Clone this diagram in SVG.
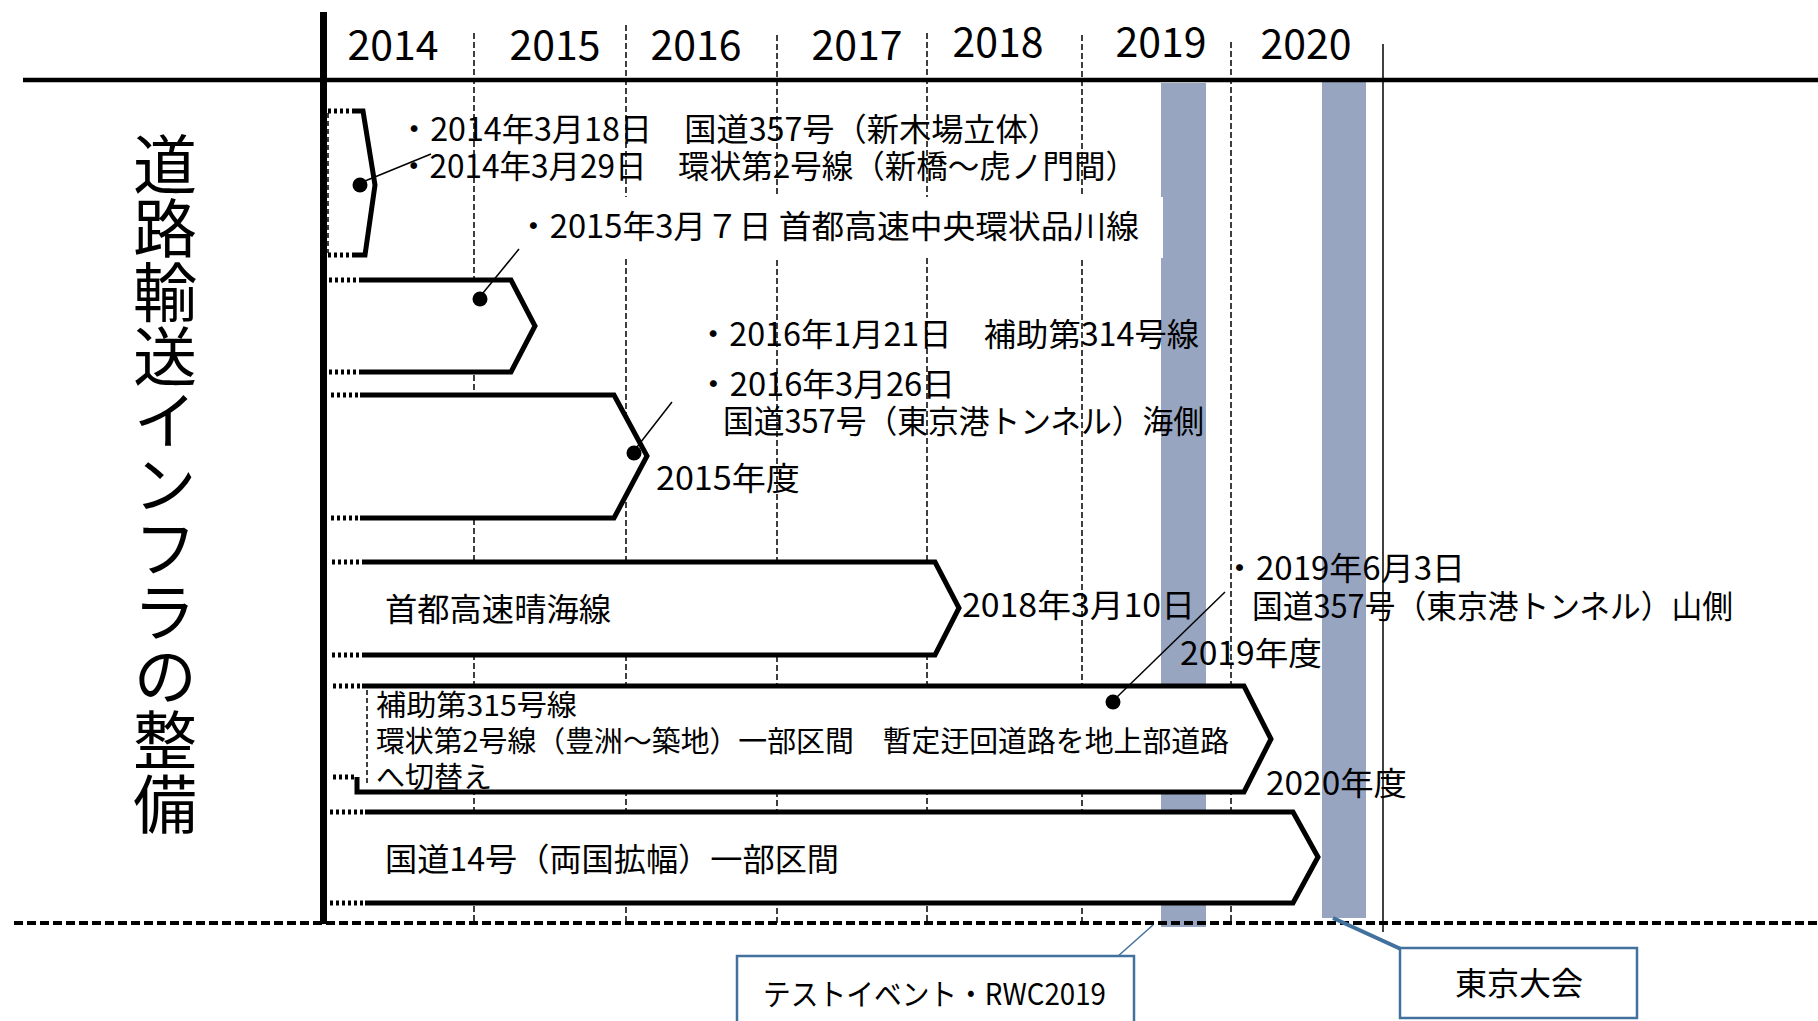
<svg xmlns="http://www.w3.org/2000/svg" width="1818" height="1021" viewBox="0 0 1818 1021">
<defs>
<style>
.t{font-family:"Noto Sans CJK JP","Noto Sans",sans-serif;fill:#000;}
.f32{font-size:32px;}
.f29{font-size:29px;}
.yr{font-size:41px;text-anchor:middle;}
.vl{stroke:#000;stroke-width:1.5;stroke-dasharray:6 3;fill:none;}
.bar{fill:#98A5C0;}
.shape{fill:#fff;stroke:none;}
.edge{fill:none;stroke:#000;stroke-width:5;stroke-linejoin:miter;}
.dotted{fill:none;stroke:#000;stroke-width:5;stroke-dasharray:3 3;}
.thin{fill:none;stroke:#000;stroke-width:1.5;}
.thindash{fill:none;stroke:#000;stroke-width:1.5;stroke-dasharray:5 3;}
.call{fill:#fff;stroke:#41719C;stroke-width:2.5;}
</style>
</defs>
<rect width="1818" height="1021" fill="#fff"/>

<g id="year-gridlines">
<line class="vl" x1="474" y1="33" x2="474" y2="924"/>
<line class="vl" x1="626" y1="25" x2="626" y2="924"/>
<line class="vl" x1="777" y1="35" x2="777" y2="924"/>
<line class="vl" x1="927" y1="33" x2="927" y2="924"/>
<line class="vl" x1="1082" y1="35" x2="1082" y2="924"/>
<line class="vl" x1="1231" y1="42" x2="1231" y2="924"/>
<line x1="1383" y1="44" x2="1383" y2="932" stroke="#000" stroke-width="1.5"/>
</g>

<g id="event-bars">
<rect class="bar" x="1161" y="83" width="45" height="844"/>
<rect class="bar" x="1322" y="81" width="44" height="837"/>
</g>

<g id="node-2014">
<polygon class="shape" points="328,111 363,111 375,185 365,255 328,255"/>
<path class="edge" d="M352,111 H363 L375,185 L365,255 H352"/>
<path class="dotted" d="M328,111 H352 M328,255 H352"/>
<path class="thindash" d="M328,113 V253"/>
</g>

<g id="node-2015">
<polygon class="shape" points="328,280 511,280 535,326 511,372 328,372"/>
<path class="edge" d="M360,280 H511 L535,326 L511,372 H360"/>
<path class="dotted" d="M329,280 H360 M329,372 H360"/>
</g>

<g id="node-2016">
<polygon class="shape" points="328,395 614,395 647,456 614,518 328,518"/>
<path class="edge" d="M360,395 H614 L647,456 L614,518 H360"/>
<path class="dotted" d="M331,395 H360 M331,518 H360"/>
</g>

<g id="node-harumi">
<polygon class="shape" points="328,562 935,562 959,608 935,655 328,655"/>
<path class="edge" d="M362,562 H935 L959,608 L935,655 H362"/>
<path class="dotted" d="M332,562 H362 M332,655 H362"/>
</g>

<g id="node-hojo315">
<polygon class="shape" points="328,686 1244,686 1271,739 1244,792 328,792"/>
<path class="edge" d="M362,686 H1244 L1271,739 L1244,792 H357 V777"/>
<path class="dotted" d="M333,686 H362 M333,777 H357"/>
<path class="thindash" d="M367,690 V786"/>
</g>

<g id="node-route14">
<polygon class="shape" points="328,812 1293,812 1318,857 1293,903 328,903"/>
<path class="edge" d="M365,812 H1293 L1318,857 L1293,903 H365"/>
<path class="dotted" d="M330,812 H365 M330,903 H365"/>
</g>

<rect id="label-bg-2015" x="520" y="197" width="643" height="61" fill="#fff"/>

<g id="axes">
<line x1="23" y1="80" x2="1818" y2="80" stroke="#000" stroke-width="4.5"/>
<line x1="323.5" y1="12" x2="323.5" y2="924" stroke="#000" stroke-width="7"/>
<line x1="14" y1="923" x2="1818" y2="923" stroke="#000" stroke-width="4" stroke-dasharray="9 4"/>
</g>

<g id="connectors">
<circle cx="360" cy="185" r="7.5"/>
<line class="thin" x1="365" y1="181" x2="431" y2="154"/>
<circle cx="480" cy="299" r="7.5"/>
<line class="thin" x1="483" y1="293" x2="519" y2="249"/>
<circle cx="634" cy="453" r="7.5"/>
<line class="thin" x1="637" y1="447" x2="672" y2="402"/>
<circle cx="1113" cy="702" r="7.5"/>
<line class="thin" x1="1117" y1="697" x2="1225" y2="592"/>
<line x1="1153" y1="925" x2="1117" y2="957" stroke="#41719C" stroke-width="1.5"/>
<line x1="1333" y1="918" x2="1403" y2="950" stroke="#41719C" stroke-width="4"/>
</g>

<g id="years" class="t yr">
<text x="393" y="60">2014</text>
<text x="555" y="60">2015</text>
<text x="696" y="60">2016</text>
<text x="857" y="60">2017</text>
<text x="998" y="57">2018</text>
<text x="1161" y="57">2019</text>
<text x="1306" y="59">2020</text>
</g>

<g id="title">
<text class="t" x="165" y="132" font-size="64" writing-mode="vertical-rl">道路輸送インフラの整備</text>
</g>

<g id="labels" class="t f32">
<text x="398" y="141" textLength="662" lengthAdjust="spacingAndGlyphs">・2014年3月18日　国道357号（新木場立体）</text>
<text x="398" y="178" textLength="739" lengthAdjust="spacingAndGlyphs">・2014年3月29日　環状第2号線（新橋～虎ノ門間）</text>
<text x="517" y="238" textLength="622" lengthAdjust="spacingAndGlyphs">・2015年3月７日 首都高速中央環状品川線</text>
<text x="697" y="346" textLength="502" lengthAdjust="spacingAndGlyphs">・2016年1月21日　補助第314号線</text>
<text x="697" y="396" textLength="258" lengthAdjust="spacingAndGlyphs">・2016年3月26日</text>
<text x="723" y="433" textLength="481" lengthAdjust="spacingAndGlyphs">国道357号（東京港トンネル）海側</text>
<text x="656" y="490" textLength="144" lengthAdjust="spacingAndGlyphs">2015年度</text>
<text x="385" y="621" textLength="226" lengthAdjust="spacingAndGlyphs">首都高速晴海線</text>
<text x="962" y="617" textLength="233" lengthAdjust="spacingAndGlyphs">2018年3月10日</text>
<text x="1223" y="580" textLength="242" lengthAdjust="spacingAndGlyphs">・2019年6月3日</text>
<text x="1252" y="618" textLength="481" lengthAdjust="spacingAndGlyphs">国道357号（東京港トンネル）山側</text>
<text x="1180" y="665" textLength="142" lengthAdjust="spacingAndGlyphs">2019年度</text>
<text x="1266" y="795" textLength="141" lengthAdjust="spacingAndGlyphs">2020年度</text>
<text x="385" y="871" textLength="454" lengthAdjust="spacingAndGlyphs">国道14号（両国拡幅）一部区間</text>
</g>
<g id="labels-hojo315" class="t f29">
<text x="376" y="716" textLength="201" lengthAdjust="spacingAndGlyphs">補助第315号線</text>
<text x="376" y="752" textLength="853" lengthAdjust="spacingAndGlyphs">環状第2号線（豊洲～築地）一部区間　暫定迂回道路を地上部道路</text>
<text x="376" y="788">へ切替え</text>
</g>

<g id="callout-test">
<rect class="call" x="737" y="956" width="397" height="80"/>
<text class="t" x="763" y="1005" font-size="30" textLength="343" lengthAdjust="spacingAndGlyphs">テストイベント・RWC2019</text>
</g>
<g id="callout-tokyo">
<rect class="call" x="1400" y="948" width="237" height="70"/>
<text class="t f32" x="1455" y="995" textLength="128" lengthAdjust="spacingAndGlyphs">東京大会</text>
</g>
</svg>
